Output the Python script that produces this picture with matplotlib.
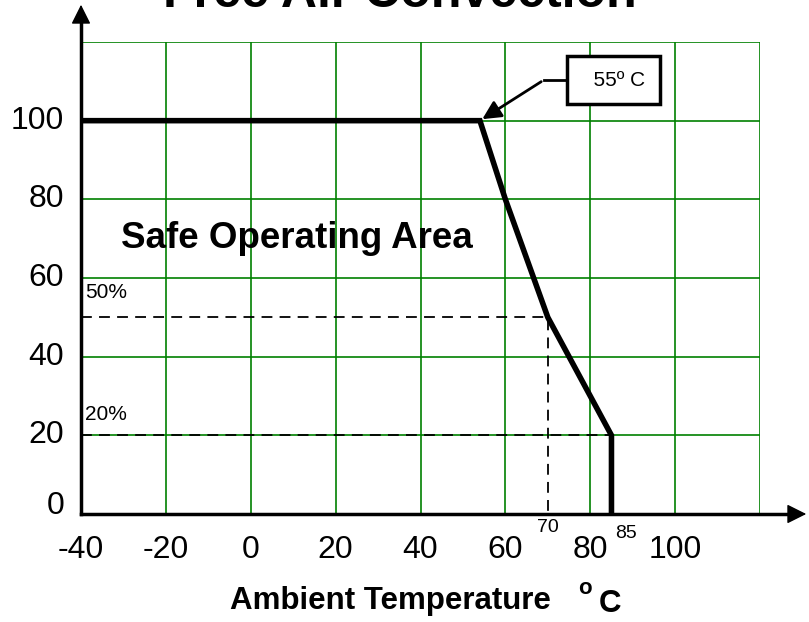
import matplotlib.pyplot as plt

plt.rcParams['font.family'] = ['Liberation Sans', 'DejaVu Sans']

# derating curve
temp = [-40, 54, 60, 70, 85, 85]
load = [100, 100, 80, 50, 20, 0]
xticks = [-40, -20, 0, 20, 40, 60, 80, 100]
yticks = [0, 20, 40, 60, 80, 100]

fig = plt.figure(figsize=(8.09, 6.22), dpi=100)
ax = fig.add_axes([81/809, 108/622, 679/809, 472/622])
ax.set_xlim(-40, 120)
ax.set_ylim(0, 120)
for s in ax.spines.values():
    s.set_visible(False)
ax.set_xticks([])
ax.set_yticks([])

g = '#008000'
for x in range(-40, 121, 20):
    ax.axvline(x, color=g, lw=1.2, zorder=1)
for y in range(0, 121, 20):
    ax.axhline(y, color=g, lw=1.2, zorder=1)

ax.plot(temp, load, color='black', lw=4, zorder=4, solid_joinstyle='miter')
ax.plot([-40, 70, 70], [50, 50, 0], 'k--', lw=1.3, dashes=(6, 4), zorder=3)
ax.plot([-40, 85], [20, 20], 'k--', lw=1.3, dashes=(6, 4), zorder=3)

ax.text(-39, 54, '50%', fontsize=15, va='bottom')
ax.text(-39, 23, '20%', fontsize=15, va='bottom')
ax.text(-30.5, 70, 'Safe Operating Area', fontsize=26.5, fontweight='bold', va='center')

# callout
ax.text(85.5, 110.3, '  55º C', fontsize=15, ha='center', va='center',
        bbox=dict(boxstyle='square,pad=0.7', fc='white', ec='black', lw=2.5), zorder=6)
ax.plot([75.5, 69], [110.3, 110.3], color='black', lw=2, zorder=5)
ax.annotate('', xy=(54, 100), xytext=(69, 110.3),
            arrowprops=dict(arrowstyle='-|>', color='black', lw=2, mutation_scale=28), zorder=5)

for x in xticks:
    ax.text(x, -9.2, str(x), fontsize=23, ha='center', va='center', clip_on=False)
for y in yticks:
    ax.text(-44, y + (2 if y == 0 else 0), str(y), fontsize=23, ha='right', va='center', clip_on=False)
ax.text(70, -3.5, '70', fontsize=14, ha='center', va='center', clip_on=False)
ax.text(88.5, -5, '85', fontsize=14, ha='center', va='center', clip_on=False)

# axes arrows
fig.lines.append(plt.Line2D([81/809, 795/809], [108/622, 108/622], color='black', lw=2.5, transform=fig.transFigure))
ax.annotate('', xy=(809/809, 108/622), xytext=(785/809, 108/622), xycoords='figure fraction',
            arrowprops=dict(arrowstyle='-|>', color='black', lw=1, mutation_scale=30))
fig.lines.append(plt.Line2D([81/809, 81/809], [108/622, 600/622], color='black', lw=2.5, transform=fig.transFigure))
ax.annotate('', xy=(81/809, 620/622), xytext=(81/809, 595/622), xycoords='figure fraction',
            arrowprops=dict(arrowstyle='-|>', color='black', lw=1, mutation_scale=30))

fig.text(390/809, 1 - 601/622, 'Ambient Temperature', fontsize=22.5, fontweight='bold', ha='center', va='center')
fig.text(585/809, 1 - 589/622, 'o', fontsize=16, fontweight='bold', ha='center', va='center')
fig.text(610/809, 1 - 604/622, 'C', fontsize=22.5, fontweight='bold', ha='center', va='center')
fig.text(400/809, 1 + 6/622, 'Free Air Convection', fontsize=36, fontweight='bold', ha='center', va='center')

fig.savefig('out.png', dpi=100)
